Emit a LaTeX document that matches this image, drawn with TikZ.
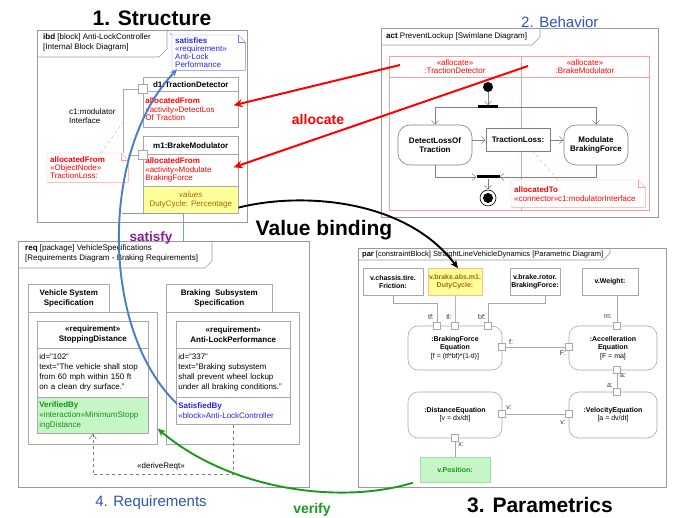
\documentclass[tikz,border=0pt]{standalone}
\usepackage{fontspec}
\setmainfont{Liberation Sans}
\usetikzlibrary{arrows.meta,calc}
\definecolor{framegray}{HTML}{9A9A9A}
\definecolor{boxgray}{HTML}{A8A8A8}
\definecolor{pinkline}{HTML}{FF9C9C}
\definecolor{titleblue}{HTML}{2F55B0}
\definecolor{noteblue}{HTML}{2424F0}
\definecolor{satblue}{HTML}{4A7EC4}
\definecolor{satpurple}{HTML}{8A1C9A}
\definecolor{valyellow}{HTML}{FFFF99}
\definecolor{valtext}{HTML}{A06A00}
\definecolor{vergreen}{HTML}{1A9A1A}
\definecolor{verfill}{HTML}{C6F5C6}
\definecolor{vertext}{HTML}{129612}
\definecolor{tlline}{HTML}{E8A888}
\definecolor{allocred}{HTML}{FF0000}
\newcommand{\myfs}{\fontsize{8}{8.6}\selectfont}
\newcommand{\myreqfs}{\fontsize{8}{10}\selectfont}
\newcommand{\mytabfs}{\fontsize{8}{9.8}\selectfont}
\newcommand{\myparfs}{\fontsize{7}{8.3}\selectfont}
\newcommand{\mynotefold}[2]{%
  \draw[#2] (#1.north west) -- ([xshift=-7pt]#1.north east) -- ([yshift=-7pt]#1.north east) -- (#1.south east) -- (#1.south west) -- cycle;
  \draw[#2] ([xshift=-7pt]#1.north east) |- ([yshift=-7pt]#1.north east);}
\tikzset{
  frame/.style={draw=framegray, line width=0.7pt},
  blk/.style={draw=boxgray, line width=0.6pt, fill=white, inner xsep=2pt, inner ysep=1pt, anchor=north west, align=center, font=\myfs},
  blkb/.style={blk, font=\bfseries\myfs},
  comp/.style={blk, align=left, text width=#1},
  notebox/.style={anchor=north west, fill=white, inner xsep=3pt, inner ysep=1pt, align=left, font=\myfs},
  port/.style={draw=boxgray, fill=white, minimum size=7pt, inner sep=0pt, line width=0.6pt},
  wire/.style={draw=boxgray, line width=0.6pt},
  flow/.style={draw=gray, line width=0.5pt, -{Straight Barb[length=4pt,width=7pt]}},
  action/.style={draw=gray, line width=0.6pt, fill=white, rounded corners=12pt, align=center, font=\bfseries\myfs, inner sep=1pt},
  bar/.style={fill=black, inner sep=0pt, minimum height=3pt},
  pbox/.style={draw=boxgray, line width=0.6pt, fill=white, align=center, font=\bfseries\myparfs, inner sep=1pt},
  eqbox/.style={draw=boxgray, line width=0.6pt, fill=white, rounded corners=10pt, align=center, font=\myparfs, inner sep=1pt},
  plabel/.style={font=\myparfs, text=black!80, inner sep=0pt},
  allocarrow/.style={draw=allocred, line width=2pt, -{Stealth[length=9pt,width=8pt]}},
  satline/.style={draw=satblue, line width=1.9pt, -{Stealth[length=7pt,width=6pt]}},
  valline/.style={draw=black, line width=1.9pt, -{Stealth[length=8pt,width=7pt]}},
  verline/.style={draw=vergreen, line width=1.9pt, -{Stealth[length=8pt,width=7pt]}},
  bigtitle/.style={font=\bfseries\fontsize{21}{24}\selectfont, inner sep=0pt},
  bluetitle/.style={text=titleblue, font=\fontsize{15}{18}\selectfont, inner sep=0pt}
}
\begin{document}
\begin{tikzpicture}[x=1pt,y=-1pt]
\useasboundingbox (0,0) rectangle (685,518);

% ================= ibd =================
\draw[frame] (37,30) rectangle (247,222);
\draw[frame] (37,57) -- (159,57) -- (167,49) -- (167,30);
\coordinate (ibdtabtop) at (167,30);
\node[anchor=north west, align=left, font=\mytabfs, inner sep=0pt] (ibdlabel) at (43,34) {\textbf{ibd} [block] Anti-LockController\\{}[Internal Block Diagram]};

\node[notebox, text=noteblue, minimum width=73pt, minimum height=35pt, text width=67pt, font=\fontsize{8}{8}\selectfont] (satnote) at (172,35) {\textbf{satisfies}\\«requirement»\\Anti-Lock\\Performance};
\mynotefold{satnote}{noteblue!60}
\draw[noteblue!60, dashed] (satnote.north west) -- (ibdtabtop);

\node[blkb, minimum width=95pt, minimum height=14pt] (d1head) at (143,77) {d1:TractionDetector};
\node[comp=91pt, minimum height=36pt, text=red] (d1comp) at (143,91) {\textbf{allocatedFrom}\\«activity»DetectLos\\Of Traction};
\node[blkb, minimum width=95pt, minimum height=18pt] (m1head) at (143,136) {m1:BrakeModulator};
\node[comp=91pt, minimum height=32pt, text=red] (m1comp) at (143,154) {\textbf{allocatedFrom}\\«activity»Modulate\\BrakingForce};
\node[blk, minimum width=95pt, minimum height=27pt, fill=valyellow, text=valtext] (values) at (143,186) {\textit{values}\\DutyCycle: Percentage};

\node[port, minimum size=9pt] (d1p) at (143,89) {};
\node[port, minimum size=9pt] (m1p) at (143,155) {};
\draw[wire] (d1p.west) -- ++(-15,0) coordinate (c1top) |- (m1p.west);
\coordinate (c1mid) at ($(c1top)+(0,33)$);
\node[anchor=west, align=left, font=\myfs, inner sep=0pt] (c1lab) at (69,116) {c1:modulator\\Interface};

\node[notebox, text=red, minimum width=81pt, minimum height=29pt, text width=75pt, font=\fontsize{8}{8.4}\selectfont] (afnote) at (47,153) {\textbf{allocatedFrom}\\«ObjectNode»\\TractionLoss:};
\mynotefold{afnote}{pinkline}
\draw[pinkline, dashed] ([xshift=13pt]afnote.north) -- (c1mid);

% ================= act =================
\draw[frame] (381,28) rectangle (658,217);
\draw[frame] (381,45) -- (532,45) -- (540,37) -- (540,28);
\node[anchor=west, inner sep=0pt, font=\mytabfs] (actlabel) at (386,36.5) {\textbf{act} PreventLockup [Swimlane Diagram]};
\draw[pinkline] (389,56) rectangle (649,210);
\draw[pinkline] (389,77) -- (649,77);
\draw[pinkline] (521,56) -- (521,210);
\node[text=red, align=center, font=\myfs, inner sep=0pt] (lane1) at (455,66.5) {«allocate»\\:TractionDetector};
\node[text=red, align=center, font=\myfs, inner sep=0pt] (lane2) at (585,66.5) {«allocate»\\:BrakeModulator};

\node[circle, fill=black, minimum size=10pt, inner sep=0pt] (init) at (488,87) {};
\node[bar, minimum width=20pt] (fork) at (488,107) {};
\draw[flow] (init) -- (fork);
\node[action, minimum width=74pt, minimum height=40pt] (detect) at (435,145) {DetectLossOf\\Traction};
\node[draw=gray, line width=0.6pt, fill=white, minimum width=64pt, minimum height=23pt, font=\bfseries\myfs, inner sep=1pt] (tloss) at (518,140) {TractionLoss:};
\node[action, minimum width=64pt, minimum height=40pt] (modul) at (596,145) {Modulate\\BrakingForce};
\draw[flow] (fork.west) -| (detect.north);
\draw[flow] (fork.east) -| (modul.north);
\draw[flow] (detect.east |- tloss.west) -- (tloss.west);
\draw[flow] (tloss.east) -- (modul.west |- tloss.east);
\node[bar, minimum width=23pt] (join) at (488,177) {};
\draw[flow] (detect.south) |- (join.west);
\draw[flow] (modul.south) |- (join.east);
\node[circle, draw=black, line width=0.6pt, minimum size=16pt, inner sep=0pt, fill=white] (final) at (488,198) {};
\node[circle, fill=black, minimum size=10pt, inner sep=0pt] (finaldot) at (final.center) {};
\draw[flow] (join) -- (final);

\node[notebox, text=red, minimum width=134pt, minimum height=27pt, text width=128pt, font=\fontsize{8}{9}\selectfont] (atnote) at (511,180) {\textbf{allocatedTo}\\«connector»c1:modulatorInterface};
\mynotefold{atnote}{pinkline}
\draw[pinkline, dashed] ([xshift=47pt]atnote.north west) -- ([xshift=15pt]tloss.south);

% ================= req =================
\draw[frame] (18,241) rectangle (309,487);
\draw[frame] (18,268) -- (205,268) -- (212,261) -- (212,241);
\node[anchor=north west, align=left, font=\mytabfs, inner sep=0pt] (reqlabel) at (25,245) {\textbf{req} [package] VehicleSpecifications\\{}[Requirements Diagram - Braking Requirements]};

\node[blk, minimum width=129pt, minimum height=132pt] (vspkg) at (28,312) {};
\node[blkb, font=\bfseries\myreqfs, minimum width=81pt, minimum height=28pt] (vstab) at (28,284) {Vehicle System\\Specification};
\node[blk, minimum width=133pt, minimum height=132pt] (bspkg) at (166,312) {};
\node[blkb, font=\bfseries\myreqfs, minimum width=106pt, minimum height=28pt] (bstab) at (166,284) {Braking\ \ Subsystem\\Specification};

\node[blkb, font=\bfseries\myreqfs, minimum width=111pt, minimum height=27pt] (sdhead) at (37,321) {«requirement»\\StoppingDistance};
\node[comp=107pt, font=\myreqfs, minimum height=49pt] (sdtext) at (37,348) {id="102"\\text="The vehicle shall stop\\from 60 mph within 150 ft\\on a clean dry surface."};
\node[comp=107pt, font=\myreqfs, minimum height=36pt, fill=verfill, text=vertext] (sdver) at (37,397) {\textbf{VerifiedBy}\\«interaction»MinimumStopp\\ingDistance};

\node[blkb, font=\bfseries\myreqfs, minimum width=114pt, minimum height=27pt] (alhead) at (176,321) {«requirement»\\Anti-LockPerformance};
\node[comp=110pt, font=\myreqfs, minimum height=49pt] (altext) at (176,348) {id="337"\\text="Braking subsystem\\shall prevent wheel lockup\\under all braking conditions."};
\node[comp=110pt, font=\myreqfs, minimum height=27pt, text=noteblue] (alsat) at (176,397) {\textbf{SatisfiedBy}\\«block»Anti-LockController};

\draw[draw=gray, dashed, line width=0.6pt, -{Straight Barb[length=5pt,width=7pt]}] (alsat.south) -- ++(0,50) -| (sdver.south);
\node[font=\myfs, inner sep=0pt] (drlab) at (161,466) {«deriveReqt»};

% ================= par =================
\draw[frame] (358,248) rectangle (666,487);
\draw[frame] (358,260) -- (603,260) -- (610,253) -- (610,248);
\node[anchor=west, inner sep=0pt, font=\fontsize{7.5}{8}\selectfont] (parlabel) at (362,254.5) {\textbf{par} [constraintBlock] StraightLineVehicleDynamics [Parametric Diagram]};

\node[pbox, minimum width=60pt, minimum height=27pt] (chassis) at (393,282) {v.chassis.tire.\\Friction:};
\node[pbox, minimum width=54pt, minimum height=27pt, fill=valyellow, text=valtext, draw=orange!50] (duty) at (455,282) {v.brake.abs.m1.\\DutyCycle:};
\node[pbox, minimum width=50pt, minimum height=27pt] (rotor) at (535,282) {v.brake.rotor.\\BrakingForce:};
\node[pbox, minimum width=56pt, minimum height=27pt] (weight) at (610,282) {v.Weight:};

\node[eqbox, minimum width=94pt, minimum height=44pt] (bfeq) at (455,348) {\textbf{:BrakingForce}\\\textbf{Equation}\\{}[f = (tf*bf)*(1-tl)]};
\node[eqbox, minimum width=88pt, minimum height=44pt] (acceq) at (613,348) {\textbf{:Accelleration}\\\textbf{Equation}\\{}[F = ma]};
\node[eqbox, minimum width=94pt, minimum height=46pt] (disteq) at (455,415) {\textbf{:DistanceEquation}\\{}[v = dx/dt]};
\node[eqbox, minimum width=88pt, minimum height=46pt] (veleq) at (613,415) {\textbf{:VelocityEquation}\\{}[a = dv/dt]};
\node[pbox, minimum width=70pt, minimum height=25pt, fill=verfill, draw=vergreen!40, text=vertext] (vpos) at (455,470) {v.Position:};

\node[port] (ptf) at (437,326) {};
\node[port] (ptl) at (455,326) {};
\node[port] (pbf) at (488,326) {};
\node[port] (pf) at (502,347) {};
\node[port] (pF) at (569,347) {};
\node[port] (pm) at (617,326) {};
\node[port] (pa1) at (617,370) {};
\node[port] (pa2) at (617,392) {};
\node[port] (pv1) at (502,414) {};
\node[port] (pv2) at (569,414) {};
\node[port] (px) at (455,438) {};

\draw[wire] (chassis.south) -- ++(0,8) -| (ptf.north);
\draw[draw=tlline, line width=0.6pt] (duty.south) -- (ptl.north);
\draw[wire] ($(rotor.south)+(10,0)$) -- ++(0,8) -| (pbf.north);
\draw[wire] ($(weight.south)+(7,0)$) -- (pm.north);
\draw[wire] (pf.east) -- (pF.west);
\draw[wire] (pa1.south) -- (pa2.north);
\draw[wire] (pv1.east) -- (pv2.west);
\draw[wire] (px.south) -- (vpos.north);

\node[plabel] (ltf) at (431,317) {tf:};
\node[plabel] (ltl) at (449,317) {tl:};
\node[plabel] (lbf) at (482,317) {bf:};
\node[plabel] (lf) at (511,342) {f:};
\node[plabel] (lF) at (563,353) {F:};
\node[plabel] (lm) at (608,317) {m:};
\node[plabel] (la1) at (623,376) {a:};
\node[plabel] (la2) at (610,386) {a:};
\node[plabel] (lv1) at (509,408) {v:};
\node[plabel] (lv2) at (563,423) {v:};
\node[plabel] (lx) at (461,445) {x:};

% ================= cross-diagram relations =================
\coordinate (al1) at (400,65);
\coordinate (al2) at (528,66);
\draw[allocarrow] (al1) -- ($(d1comp.east)+(-5,-4)$);
\draw[allocarrow] (al2) -- ($(m1comp.east)+(-5,-3)$);

\draw[satblue!75, line width=0.8pt] (122,213) -- (183,213) -- (183,241);
\draw[satline] ($(alsat.west)+(1,-7)$) .. controls (100,330) and (100,150) .. ($(satnote.south west)+(5,-1)$);

\draw[valline] ($(values.south east)+(0,-6)$) .. controls (300,192) and (405,198) .. ($(duty.north)+(3,0)$);

\draw[verline] ($(vpos.south west)+(-7,0)$) .. controls (340,505) and (230,490) .. ($(vspkg.south east)+(0,-16)$);

% ================= titles =================
\node[bigtitle] (t1) at (152,18) {1. Structure};
\node[bluetitle, anchor=west] (t2) at (521,22) {2. Behavior};
\node[bigtitle] (tvb) at (324,230) {Value binding};
\node[bluetitle] (t4) at (151,503) {4. Requirements};
\node[bigtitle] (t3) at (540,505) {3. Parametrics};
\node[text=red, font=\bfseries\fontsize{14}{16}\selectfont, inner sep=0pt] (talloc) at (318,119) {allocate};
\node[text=satpurple, font=\bfseries\fontsize{13.5}{16}\selectfont, inner sep=0pt] (tsat) at (151,238) {satisfy};
\node[text=vergreen, font=\bfseries\fontsize{14}{16}\selectfont, inner sep=0pt] (tver) at (312,510) {verify};
\end{tikzpicture}
\end{document}
